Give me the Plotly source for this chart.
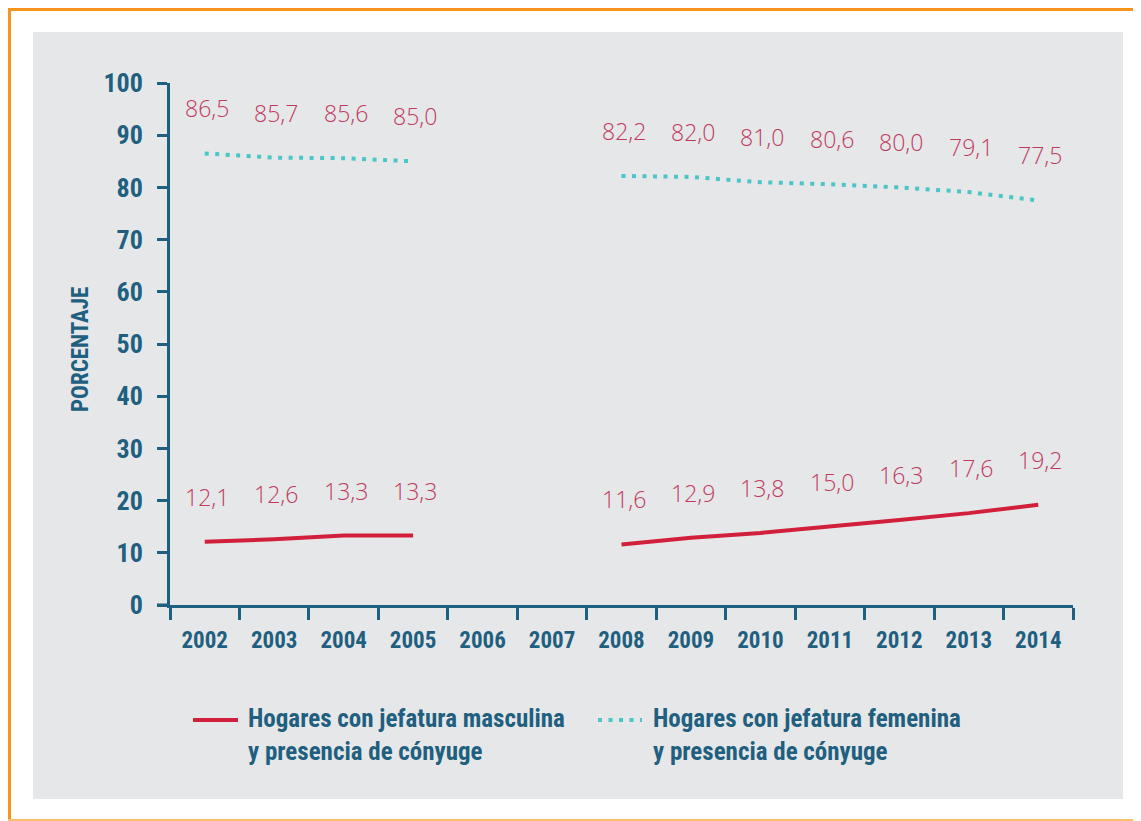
import plotly.graph_objects as go

# ---------------- DATA ----------------
years = ["2002", "2003", "2004", "2005", "2006", "2007", "2008",
         "2009", "2010", "2011", "2012", "2013", "2014"]
masculina = [12.1, 12.6, 13.3, 13.3, None, None, 11.6,
             12.9, 13.8, 15.0, 16.3, 17.6, 19.2]
femenina = [86.5, 85.7, 85.6, 85.0, None, None, 82.2,
            82.0, 81.0, 80.6, 80.0, 79.1, 77.5]
y_ticks = [0, 10, 20, 30, 40, 50, 60, 70, 80, 90, 100]
legend_masc = "Hogares con jefatura masculina<br>y presencia de cónyuge"
legend_fem = "Hogares con jefatura femenina<br>y presencia de cónyuge"

# ---------------- STYLE ----------------
# the page body has an 8px margin, so the figure is drawn 8px smaller
OFF = 8
W, H = 1141 - OFF, 821 - OFF
X0, X1, Y0, Y1 = 170, 1073, 83, 605      # plot area in page pixels
ML, MT = X0 - OFF, Y0 - OFF
MR, MB = W - (X1 - OFF), H - (Y1 - OFF)

AXIS = "#1f5f7f"
RED = "#d21f3c"
CYAN = "#4bc5c7"
LABEL = "#c0395f"
PANEL = "#e6e7e8"
ORANGE = "#f7941d"
COND = ("Noto Sans Condensed, Roboto Condensed, Liberation Sans Narrow, "
        "DejaVu Sans Condensed, Roboto, sans-serif")
THIN = "Open Sans, Noto Sans, sans-serif"


def px(xp):
    return (xp - X0) / (X1 - X0)


def py(yp):
    return (Y1 - yp) / (Y1 - Y0)


fig = go.Figure()

fig.add_trace(go.Scatter(x=years, y=masculina, mode="lines",
                         line=dict(color=RED, width=4),
                         connectgaps=False, showlegend=False,
                         hoverinfo="skip"))
fig.add_trace(go.Scatter(x=years, y=femenina, mode="lines",
                         line=dict(color=CYAN, width=4, dash="4px,6.5px"),
                         connectgaps=False, showlegend=False,
                         hoverinfo="skip"))

# value labels (category index as x position)
annotations = []
for serie in (masculina, femenina):
    for i, v in enumerate(serie):
        if v is None:
            continue
        annotations.append(dict(
            x=i, y=v, xref="x", yref="y",
            text=f"{v:.1f}".replace(".", ","),
            showarrow=False, yshift=45, xshift=2,
            font=dict(family=THIN, size=23, color=LABEL, weight=300)))

# y axis title
annotations.append(dict(
    x=px(80), y=py(350), xref="paper", yref="paper",
    text="PORCENTAJE", textangle=-90, showarrow=False,
    xanchor="center", yanchor="middle",
    font=dict(family=COND, size=23, color=AXIS, weight="bold")))

# legend text
for xl, txt in ((246, legend_masc), (651, legend_fem)):
    annotations.append(dict(
        x=px(xl), y=py(702), xref="paper", yref="paper",
        text=txt, showarrow=False, align="left",
        xanchor="left", yanchor="top",
        font=dict(family=COND, size=25, color=AXIS, weight="bold")))

shapes = [
    # gray panel
    dict(type="rect", xref="paper", yref="paper", layer="below",
         x0=px(33), x1=px(1123), y0=py(799), y1=py(32),
         fillcolor=PANEL, line=dict(width=0)),
    # orange frame
    dict(type="line", xref="paper", yref="paper",
         x0=px(6), x1=px(1141), y0=py(8.5), y1=py(8.5),
         line=dict(color=ORANGE, width=5)),
    dict(type="line", xref="paper", yref="paper",
         x0=px(8.5), x1=px(8.5), y0=py(6), y1=py(821),
         line=dict(color=ORANGE, width=5)),
    dict(type="line", xref="paper", yref="paper",
         x0=px(6), x1=px(1141), y0=py(820), y1=py(820),
         line=dict(color="#fbbf6a", width=2)),
    # x axis stub left of y axis
    dict(type="line", xref="paper", yref="paper",
         x0=px(157), x1=px(170), y0=0, y1=0,
         line=dict(color=AXIS, width=3)),
    # legend samples
    dict(type="line", xref="paper", yref="paper",
         x0=px(193), x1=px(238), y0=py(720), y1=py(720),
         line=dict(color=RED, width=4)),
    dict(type="line", xref="paper", yref="paper",
         x0=px(598), x1=px(642), y0=py(720), y1=py(720),
         line=dict(color=CYAN, width=4, dash="4px,6.5px")),
]

fig.update_layout(
    width=W, height=H,
    margin=dict(l=ML, r=MR, t=MT, b=MB),
    paper_bgcolor="white", plot_bgcolor=PANEL,
    showlegend=False,
    annotations=annotations, shapes=shapes,
    xaxis=dict(type="category", range=[-0.5, 12.5],
               tickson="boundaries", ticks="outside", ticklen=12,
               tickwidth=3, tickcolor=AXIS,
               showline=True, linecolor=AXIS, linewidth=3,
               showgrid=False, zeroline=False,
               ticklabelstandoff=12,
               tickfont=dict(family=COND, size=23, color=AXIS,
                             weight="bold")),
    yaxis=dict(range=[0, 100], tickvals=y_ticks, ticks="outside",
               ticklen=10, tickwidth=3, tickcolor=AXIS,
               showline=True, linecolor=AXIS, linewidth=3,
               showgrid=False, zeroline=False,
               ticklabelstandoff=9,
               tickfont=dict(family=COND, size=26, color=AXIS,
                             weight="bold")),
)

fig.write_html("out.html")
